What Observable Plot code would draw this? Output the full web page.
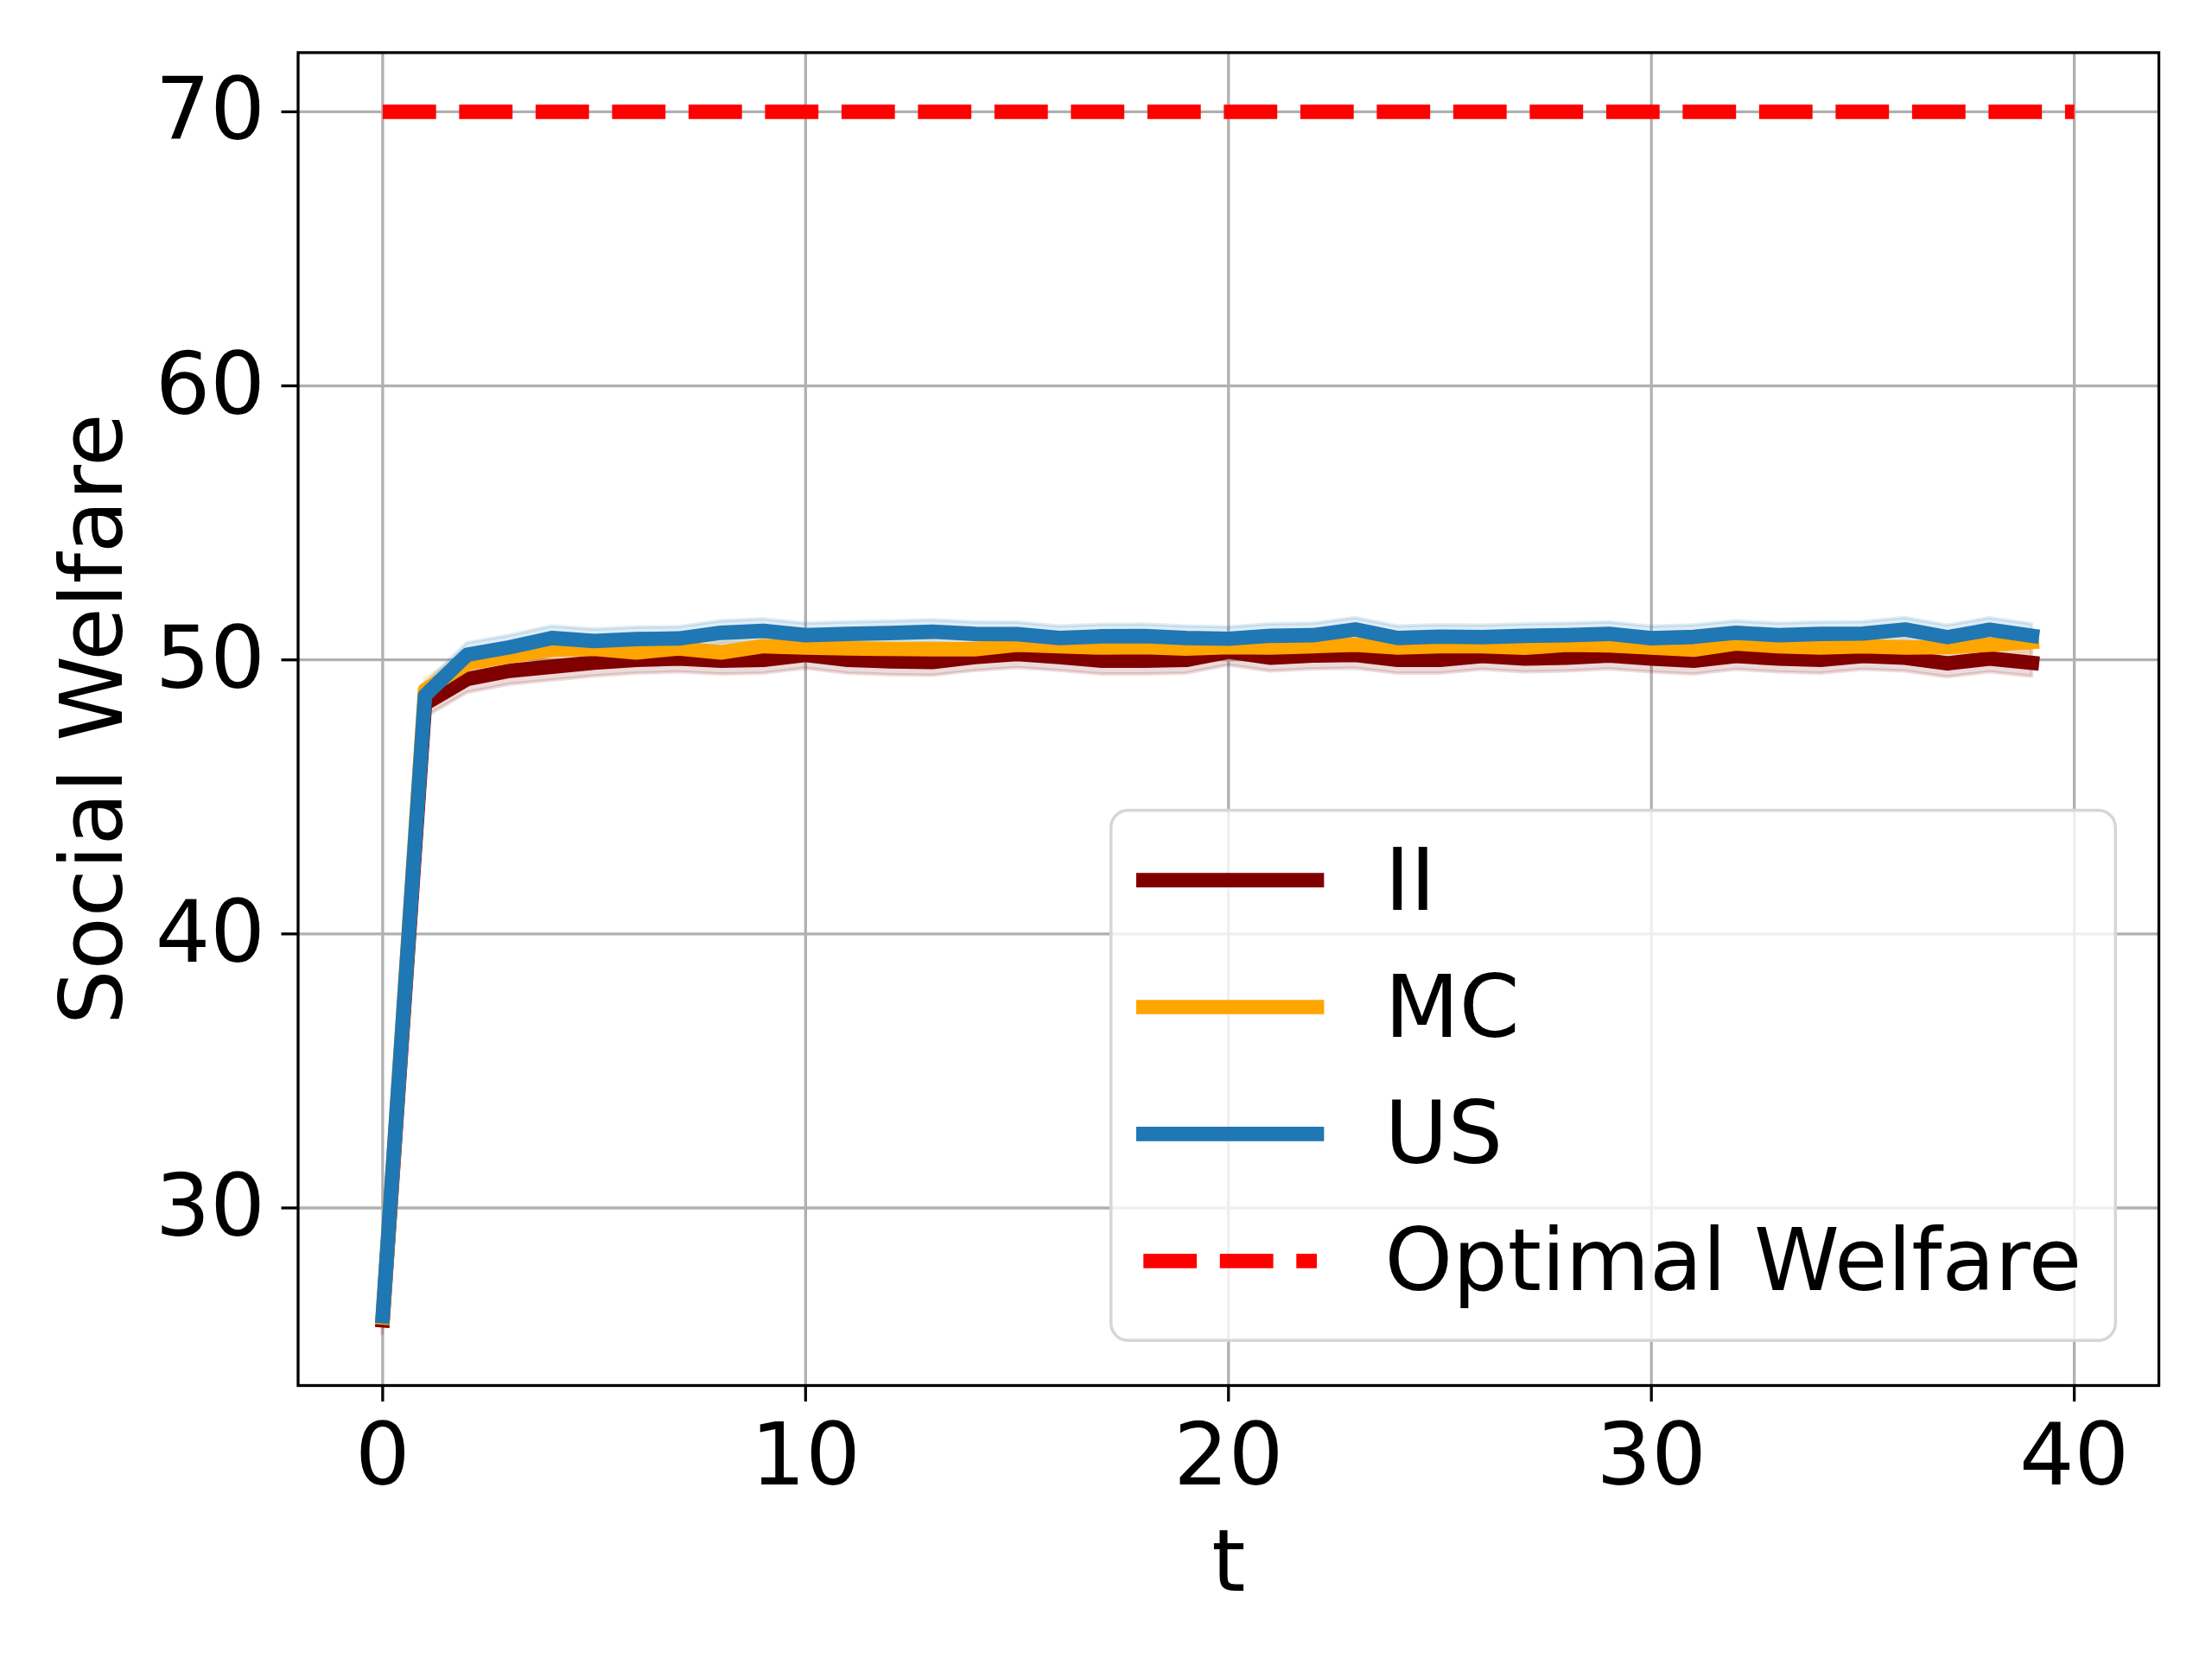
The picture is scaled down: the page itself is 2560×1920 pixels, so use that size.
<!DOCTYPE html>
<html>
<head>
<meta charset="utf-8">
<script src="https://cdn.jsdelivr.net/npm/d3@7"></script>
<script src="https://cdn.jsdelivr.net/npm/@observablehq/plot@0.6"></script>
<style>
html, body { margin: 0; padding: 0; background: #fff; }
#wrap { position: relative; width: 2560px; height: 1920px; overflow: hidden; }
#wrap > svg.chart { position: absolute; left: 0; top: 0; }
</style>
</head>
<body>
<div id="wrap"></div>
<script>
// ---- data ----
const t = [0,1,2,3,4,5,6,7,8,9,10,11,12,13,14,15,16,17,18,19,
           20,21,22,23,24,25,26,27,28,29,30,31,32,33,34,35,36,37,38,39];
const II = [25.9,48.4,49.3,49.6,49.75,49.9,50.0,50.05,49.97,50.0,
            50.18,50.0,49.95,49.92,50.1,50.21,50.1,49.97,49.97,50.0,
            50.3,50.08,50.16,50.18,50.0,50.0,50.14,50.05,50.08,50.16,
            50.05,49.97,50.14,50.05,50.0,50.14,50.08,49.87,50.05,49.89];
const MC = [26.0,48.9,49.87,50.13,50.37,50.4,50.27,50.42,50.27,50.5,
            50.45,50.42,50.4,50.39,50.39,50.55,50.5,50.45,50.47,50.41,
            50.47,50.45,50.5,50.55,50.45,50.5,50.5,50.44,50.55,50.53,
            50.45,50.37,50.6,50.5,50.45,50.5,50.45,50.47,50.55,50.65];
const US = [26.05,48.7,50.19,50.46,50.8,50.69,50.76,50.78,50.99,51.06,
            50.9,50.95,50.98,51.03,50.95,50.94,50.8,50.86,50.87,50.8,
            50.77,50.88,50.9,51.11,50.8,50.85,50.83,50.88,50.9,50.95,
            50.79,50.84,50.99,50.9,50.95,50.96,51.11,50.83,51.1,50.88];
const bandHalf = {II: 0.5, MC: 0.4, US: 0.42};   // half-width of shaded band
const optT = [0, 40];
const optY = [70, 70];
const xTicks = [0, 10, 20, 30, 40];
const yTicks = [30, 40, 50, 60, 70];
const seriesNames = ["II", "MC", "US"];
const seriesValues = {II, MC, US};
const colors = {II: "#800000", MC: "#ffa500", US: "#1f77b4"};
const optName = "Optimal Welfare";
const optColor = "#ff0000";

// ---- tables ----
const rows = {};
for (const s of seriesNames) {
  rows[s] = t.map((tt, i) => ({
    t: tt, y: seriesValues[s][i],
    lo: seriesValues[s][i] - bandHalf[s],
    hi: seriesValues[s][i] + bandHalf[s]
  }));
}
const optRows = optT.map((tt, i) => ({t: tt, y: optY[i]}));

const FONT = "DejaVu Sans";
const LW = 16.7;

const marks = [
  Plot.gridX(xTicks, {stroke: "#b0b0b0", strokeOpacity: 1, strokeWidth: 3.3}),
  Plot.gridY(yTicks, {stroke: "#b0b0b0", strokeOpacity: 1, strokeWidth: 3.3})
];
for (const s of seriesNames) {
  marks.push(Plot.areaY(rows[s], {
    x: "t", y1: "lo", y2: "hi",
    fill: colors[s], fillOpacity: 0.14,
    stroke: colors[s], strokeOpacity: 0.14, strokeWidth: 4
  }));
}
for (const s of seriesNames) {
  marks.push(Plot.line(rows[s], {
    x: "t", y: "y", stroke: colors[s], strokeWidth: LW,
    strokeLinecap: "square", strokeLinejoin: "round"
  }));
}
marks.push(Plot.line(optRows, {
  x: "t", y: "y", stroke: optColor, strokeWidth: LW,
  strokeDasharray: "61.8 26.7", strokeLinecap: "butt"
}));
marks.push(Plot.frame({stroke: "black", strokeWidth: 3.3}));
marks.push(Plot.axisX(xTicks, {
  tickSize: 19, tickPadding: 24, fontSize: 100, strokeWidth: 3.3,
  stroke: "black", fill: "black", label: null, tickFormat: d => String(d)
}));
marks.push(Plot.axisY(yTicks, {
  tickSize: 19, tickPadding: 19, fontSize: 100, strokeWidth: 3.3,
  stroke: "black", fill: "black", label: null, tickFormat: d => String(d)
}));
marks.push(Plot.text(["t"], {
  frameAnchor: "bottom", dy: 237, lineAnchor: "bottom", textAnchor: "middle",
  fontSize: 100, fill: "black", text: d => d
}));
marks.push(Plot.text(["Social Welfare"], {
  frameAnchor: "left", dx: -204.5, rotate: -90, lineAnchor: "bottom", textAnchor: "middle",
  fontSize: 100, fill: "black", text: d => d
}));

const chart = Plot.plot({
  width: 2560, height: 1920,
  marginLeft: 344.5, marginRight: 62, marginTop: 60.4, marginBottom: 317,
  x: {domain: [-2, 42]},
  y: {domain: [23.52, 72.16]},
  style: {fontFamily: FONT, fontSize: "100px", background: "white", color: "black"},
  marks
});
chart.classList.add("chart");
const wrap = document.getElementById("wrap");
wrap.appendChild(chart);

// ---- legend (overlay) ----
const W = 1166, H = 617;
const leg = d3.select(wrap).append("svg")
  .attr("id", "legend").attr("width", W).attr("height", H)
  .style("position", "absolute").style("left", "1284px").style("top", "936px")
  .style("font-family", FONT).style("font-size", "100px");
leg.append("rect")
  .attr("x", 1.75).attr("y", 1.75).attr("width", W - 3.5).attr("height", H - 3.5)
  .attr("rx", 20).attr("ry", 20)
  .attr("fill", "rgba(255,255,255,0.8)")
  .attr("stroke", "#d6d6d6").attr("stroke-width", 3.5);
const entries = seriesNames.map(s => ({name: s, color: colors[s], dash: null}))
  .concat([{name: optName, color: optColor, dash: "61.8 26.7"}]);
const rowY = [82.6, 229.5, 376.4, 523.4];
entries.forEach((e, i) => {
  leg.append("line")
    .attr("x1", 39.3).attr("x2", 240)
    .attr("y1", rowY[i]).attr("y2", rowY[i])
    .attr("stroke", e.color).attr("stroke-width", LW)
    .attr("stroke-linecap", e.dash ? "butt" : "square")
    .attr("stroke-dasharray", e.dash);
  leg.append("text")
    .attr("x", 318.5).attr("y", rowY[i] + 34)
    .attr("fill", "black")
    .text(e.name);
});
</script>
</body>
</html>
